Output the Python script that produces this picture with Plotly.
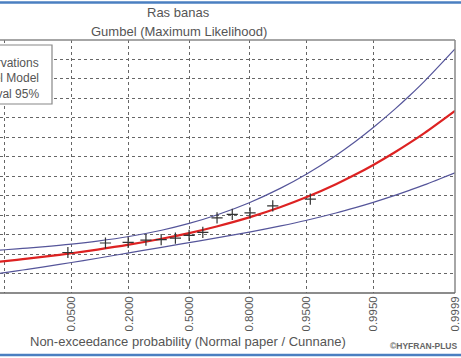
import plotly.graph_objects as go
from statistics import NormalDist

# Non-exceedance probabilities at which the fitted curve and bounds are drawn
curve_p = [0.004, 0.005, 0.01, 0.02, 0.05, 0.1, 0.2, 0.35, 0.5, 0.65, 0.8,
           0.9, 0.95, 0.98, 0.99, 0.995, 0.998, 0.999, 0.9995, 0.9999]
# Gumbel (maximum likelihood) quantiles
model_q = [8.03, 8.18, 8.68, 9.26, 10.21, 11.14, 12.41, 13.93, 15.40, 17.09, 19.42,
           22.09, 24.64, 27.95, 30.43, 32.90, 36.16, 38.62, 41.08, 46.80]
# 95% confidence bounds
upper_q = [11.00, 11.11, 11.45, 11.87, 12.58, 13.35, 14.51, 16.12, 17.87, 20.04, 23.20,
           26.94, 30.58, 35.34, 38.92, 42.50, 47.23, 50.80, 54.38, 62.71]
lower_q = [5.06, 5.25, 5.91, 6.65, 7.84, 8.93, 10.31, 11.74, 12.93, 14.14, 15.64,
           17.24, 18.70, 20.56, 21.94, 23.30, 25.09, 26.44, 27.78, 30.89]

# Observed maxima with their Cunnane plotting positions
obs_p = [0.045, 0.121, 0.197, 0.273, 0.348, 0.424, 0.500, 0.576, 0.652,
         0.727, 0.803, 0.879, 0.955]
obs_v = [10.4, 12.85, 13.0, 13.6, 13.7, 14.1, 14.8, 15.6, 19.3,
         20.2, 20.6, 22.4, 24.1]

tick_p = [0.005, 0.05, 0.2, 0.5, 0.8, 0.95, 0.995, 0.9999]
tick_text = ["0.0050", "0.0500", "0.2000", "0.5000", "0.8000", "0.9500", "0.9950", "0.9999"]

nd = NormalDist()
z = lambda ps: [nd.inv_cdf(p) for p in ps]

FONT = "Arial, Liberation Sans, sans-serif"
TXT = "#555555"
BAND = "#55559a"

fig = go.Figure()
fig.add_trace(go.Scatter(x=z(curve_p), y=upper_q, mode="lines",
                         line=dict(color=BAND, width=1.2, shape="spline"),
                         showlegend=False, hoverinfo="skip"))
fig.add_trace(go.Scatter(x=z(curve_p), y=lower_q, mode="lines",
                         line=dict(color=BAND, width=1.2, shape="spline"),
                         showlegend=False, hoverinfo="skip"))
fig.add_trace(go.Scatter(x=z(curve_p), y=model_q, mode="lines",
                         line=dict(color="#dd2222", width=2.2, shape="spline"),
                         showlegend=False, hoverinfo="skip"))
fig.add_trace(go.Scatter(x=z(obs_p), y=obs_v, mode="markers",
                         marker=dict(symbol="cross-thin", size=8,
                                     line=dict(color="#333333", width=1.2)),
                         showlegend=False))

fig.update_layout(
    width=461, height=358,
    margin=dict(l=0, r=6, t=40, b=65),
    paper_bgcolor="white", plot_bgcolor="white",
    font=dict(family=FONT, color=TXT, size=12),
    xaxis=dict(range=[-2.645, nd.inv_cdf(0.9999)],
               tickmode="array", tickvals=z(tick_p), ticktext=tick_text,
               tickangle=-90, tickfont=dict(size=11.5, color=TXT),
               showgrid=True, gridcolor="#666666", griddash="dot", gridwidth=1,
               zeroline=False, showline=False, ticks=""),
    yaxis=dict(range=[0, 65], dtick=5, showticklabels=False,
               showgrid=True, gridcolor="#666666", griddash="dot", gridwidth=1,
               zeroline=False, showline=False, ticks=""),
    shapes=[
        # plot frame
        dict(type="line", xref="paper", yref="paper", x0=0, x1=1, y0=1, y1=1,
             line=dict(color="#888888", width=1.5)),
        dict(type="line", xref="paper", yref="paper", x0=1, x1=1, y0=0, y1=1,
             line=dict(color="#888888", width=1.5)),
        dict(type="line", xref="paper", yref="paper", x0=0, x1=1, y0=0, y1=0,
             line=dict(color="#666666", width=1.5)),
        # legend box
        dict(type="rect", xref="paper", yref="paper",
             x0=-0.05, x1=52 / 455, y0=1 - 64 / 253, y1=1 - 5 / 253,
             fillcolor="white", line=dict(color="#888888", width=1.2), layer="above"),
        # page rules
        dict(type="line", xref="paper", yref="paper", x0=-0.02, x1=1.02,
             y0=(358 - 65 - 2.5) / 253, y1=(358 - 65 - 2.5) / 253,
             line=dict(color="#4a7fc1", width=2.5)),
        dict(type="line", xref="paper", yref="paper", x0=-0.02, x1=1.02,
             y0=-(355 - 293) / 253, y1=-(355 - 293) / 253,
             line=dict(color="#4a7fc1", width=2.5)),
    ],
)

ann = [
    dict(text="Ras banas", x=178, y=13, size=13),
    dict(text="Gumbel (Maximum Likelihood)", x=179, y=32, size=13),
    dict(text="Non-exceedance probability (Normal paper / Cunnane)", x=188, y=341, size=13),
]
for a in ann:
    fig.add_annotation(text=a["text"], xref="paper", yref="paper",
                       x=a["x"] / 455, y=(293 - a["y"]) / 253,
                       xanchor="center", yanchor="middle", showarrow=False,
                       font=dict(size=a["size"], color=TXT, family=FONT))

fig.add_annotation(text="<b>©HYFRAN-PLUS</b>", xref="paper", yref="paper",
                   x=460 / 455, y=(293 - 346) / 253, xanchor="right", yanchor="middle",
                   showarrow=False, font=dict(size=8.5, color="#666666", family=FONT))

for label, ypx in [("Observations", 63), ("Gumbel Model", 78), ("Confidence interval 95%", 94)]:
    fig.add_annotation(text=label, xref="paper", yref="paper",
                       x=41 / 455, y=(293 - ypx) / 253, xanchor="right", yanchor="middle",
                       showarrow=False, font=dict(size=12, color=TXT, family=FONT))

fig.write_html("out.html")
